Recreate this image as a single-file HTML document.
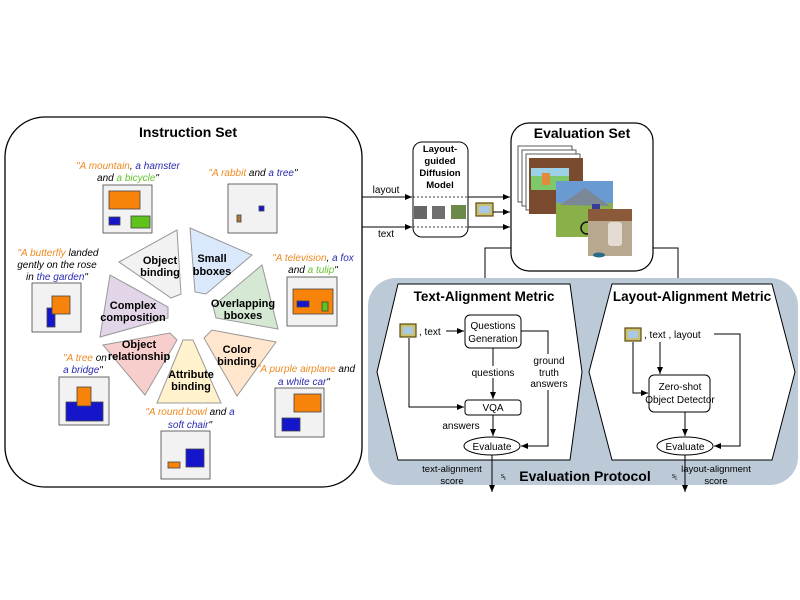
<!DOCTYPE html>
<html><head><style>
html,body{margin:0;padding:0;background:#fff;}
svg{display:block;font-family:"Liberation Sans",sans-serif;}
.b{font-weight:bold;}
.ex{font-size:10px;font-style:italic;}
.o{fill:#ee8a22}.bl{fill:#2a2ab0}.g{fill:#66c22e}
</style></head><body>
<svg width="800" height="600" viewBox="0 0 800 600" xmlns="http://www.w3.org/2000/svg">
<defs>
<marker id="a" markerWidth="8" markerHeight="8" refX="7" refY="4" orient="auto" markerUnits="userSpaceOnUse"><path d="M0,1 L7,4 L0,7 z" fill="#000"/></marker>
</defs>
<rect width="800" height="600" fill="#fff"/>
<rect x="5" y="117" width="357" height="370" rx="40" fill="#fff" stroke="#000" stroke-width="1.3"/>
<text x="188" y="137" text-anchor="middle" class="b" font-size="14">Instruction Set</text>

<g stroke="#999" stroke-width="1">
<polygon points="190,228 252,255 206,294 195,292" fill="#dae8fc"/>
<polygon points="262,265 278,329 216,318 213,306" fill="#d5e8d4"/>
<polygon points="276,342 237,396 204,338 212,330" fill="#ffe6cc"/>
<polygon points="221,403 157,403 183,340 193,340" fill="#fff2cc"/>
<polygon points="145,395 103,345 170,333 177,340" fill="#f8cecc"/>
<polygon points="100,337 110,275 168,307 168,318" fill="#e1d5e7"/>
<polygon points="119,262 177,230 181,294 171,298" fill="#f2f2f2"/>
</g>
<circle cx="192" cy="317" r="21" fill="#fff"/>
<g class="b" font-size="11" text-anchor="middle">
<text x="160" y="264">Object</text><text x="160" y="276">binding</text>
<text x="212" y="262">Small</text><text x="212" y="275">bboxes</text>
<text x="243" y="307">Overlapping</text><text x="243" y="319">bboxes</text>
<text x="237" y="353">Color</text><text x="237" y="365">binding</text>
<text x="191" y="378">Attribute</text><text x="191" y="390">binding</text>
<text x="139" y="348">Object</text><text x="139" y="360">relationship</text>
<text x="133" y="309">Complex</text><text x="133" y="321">composition</text>
</g>

<g stroke="#444" stroke-width="0.8">
<rect x="103" y="185" width="49" height="48" fill="#f2f2f2"/>
<rect x="109" y="191" width="31" height="18" fill="#f7830a"/>
<rect x="109" y="217" width="11" height="8" fill="#1515cc"/>
<rect x="131" y="216" width="19" height="12" fill="#5fc31c"/>
<rect x="228" y="184" width="49" height="49" fill="#f2f2f2"/>
<rect x="237" y="215" width="4" height="7" fill="#b07a3a"/>
<rect x="259" y="206" width="5" height="5" fill="#1515cc"/>
<rect x="287" y="277" width="50" height="49" fill="#f2f2f2"/>
<rect x="293" y="289" width="40" height="25" fill="#f7830a"/>
<rect x="297" y="301" width="12" height="6" fill="#1515cc"/>
<rect x="322" y="302" width="6" height="9" fill="#5fc31c"/>
<rect x="32" y="283" width="49" height="49" fill="#f2f2f2"/>
<rect x="47" y="308" width="8" height="19" fill="#1515cc"/>
<rect x="52" y="296" width="18" height="18" fill="#f7830a"/>
<rect x="59" y="377" width="50" height="48" fill="#f2f2f2"/>
<rect x="66" y="402" width="37" height="19" fill="#1515cc"/>
<rect x="77" y="387" width="14" height="19" fill="#f7830a"/>
<rect x="161" y="431" width="49" height="48" fill="#f2f2f2"/>
<rect x="168" y="462" width="12" height="6" fill="#f7830a"/>
<rect x="186" y="449" width="18" height="18" fill="#1515cc"/>
<rect x="275" y="388" width="49" height="49" fill="#f2f2f2"/>
<rect x="294" y="394" width="27" height="18" fill="#f7830a"/>
<rect x="282" y="418" width="18" height="13" fill="#1515cc"/>
</g>
<g class="ex" text-anchor="middle">
<text x="128" y="169"><tspan class="o">"A mountain</tspan>, <tspan class="bl">a hamster</tspan></text>
<text x="128" y="181">and <tspan class="g">a bicycle</tspan>"</text>
<text x="253" y="176"><tspan class="o">"A rabbit</tspan> and <tspan class="bl">a tree</tspan>"</text>
<text x="313" y="261"><tspan class="o">"A television</tspan>, <tspan class="bl">a fox</tspan></text>
<text x="313" y="273">and <tspan class="g">a tulip</tspan>"</text>
<text x="58" y="256"><tspan class="o">"A butterfly</tspan>  landed</text>
<text x="57" y="268">gently on the rose</text>
<text x="57" y="280">in <tspan class="bl">the garden</tspan>"</text>
<text x="85" y="361"><tspan class="o">"A tree</tspan> on</text>
<text x="83" y="373"><tspan class="bl">a bridge</tspan>"</text>
<text x="190" y="415"><tspan class="o">"A round bowl</tspan> and <tspan class="bl">a</tspan></text>
<text x="190" y="428"><tspan class="bl">soft chair</tspan>"</text>
<text x="306" y="372"><tspan class="o">"A purple airplane</tspan> and</text>
<text x="304" y="385"><tspan class="bl">a white car</tspan>"</text>
</g>

<rect x="413" y="142" width="55" height="95" rx="9" fill="#fff" stroke="#000"/>
<g class="b" font-size="9.5" text-anchor="middle">
<text x="440" y="152">Layout-</text><text x="440" y="164">guided</text><text x="440" y="176">Diffusion</text><text x="440" y="188">Model</text>
</g>
<line x1="413" y1="197" x2="468" y2="197" stroke="#000" stroke-dasharray="2,2" stroke-width="0.8"/>
<line x1="413" y1="227" x2="468" y2="227" stroke="#000" stroke-dasharray="2,2" stroke-width="0.8"/>
<rect x="414" y="206" width="13" height="13" fill="#666"/>
<rect x="432" y="206" width="13" height="13" fill="#6e6e6e"/>
<rect x="451" y="205" width="15" height="14" fill="#6b8a4a"/>
<rect x="476" y="203" width="17" height="13" fill="#c9c070" stroke="#5a4a10" stroke-width="1.2"/>
<rect x="479" y="206" width="11" height="7" fill="#a9c7e6"/>
<g stroke="#000" stroke-width="1" fill="none">
<line x1="362" y1="197" x2="412" y2="197" marker-end="url(#a)"/>
<line x1="362" y1="227" x2="412" y2="227" marker-end="url(#a)"/>
<line x1="468" y1="197" x2="510" y2="197" marker-end="url(#a)"/>
<line x1="493" y1="212" x2="510" y2="212" marker-end="url(#a)"/>
<line x1="468" y1="227" x2="510" y2="227" marker-end="url(#a)"/>
</g>
<text x="386" y="193" font-size="10" text-anchor="middle">layout</text>
<text x="386" y="237" font-size="10" text-anchor="middle">text</text>

<rect x="511" y="123" width="142" height="148" rx="18" fill="#fff" stroke="#000" stroke-width="1.2"/>
<text x="582" y="138" class="b" font-size="14" text-anchor="middle">Evaluation Set</text>
<rect x="518" y="146" width="54" height="56" fill="#fff" stroke="#333" stroke-width="0.8"/>
<rect x="522" y="150" width="54" height="56" fill="#fff" stroke="#333" stroke-width="0.8"/>
<rect x="526" y="154" width="54" height="56" fill="#fff" stroke="#333" stroke-width="0.8"/>
<rect x="529" y="158" width="54" height="56" fill="#7a4a2e"/>
<rect x="531" y="168" width="38" height="22" fill="#7ec86a"/>
<rect x="531" y="168" width="38" height="8" fill="#9cd0e6"/>
<rect x="542" y="173" width="8" height="12" fill="#e08a3a"/>
<rect x="556" y="181" width="57" height="56" fill="#8ab04a"/>
<rect x="556" y="181" width="57" height="22" fill="#6a9ad2"/>
<polygon points="560,205 585,188 610,206" fill="#7a8898"/>
<circle cx="587" cy="228" r="6" fill="none" stroke="#111" stroke-width="1.5"/>
<circle cx="605" cy="228" r="6" fill="none" stroke="#111" stroke-width="1.5"/>
<rect x="592" y="204" width="8" height="14" fill="#3a3a9a"/>
<rect x="588" y="209" width="44" height="47" fill="#b8a890"/>
<rect x="588" y="209" width="44" height="12" fill="#8a5a3a"/>
<rect x="608" y="222" width="14" height="24" fill="#e4dcd2" rx="3"/>
<ellipse cx="599" cy="255" rx="6" ry="2.5" fill="#2a6a8a"/>

<g stroke="#000" stroke-width="1" fill="none">
<polyline points="511,248 485,248 485,286" marker-end="url(#a)"/>
<polyline points="653,248 678,248 678,286" marker-end="url(#a)"/>
</g>
<rect x="368" y="278" width="430" height="207" rx="28" fill="#bccad8"/>
<polygon points="398,284 570,284 582,372 570,460 398,460 377,372" fill="#fff" stroke="#000"/>
<polygon points="612,284 772,284 795,372 772,460 612,460 589,372" fill="#fff" stroke="#000"/>
<text x="484" y="301" class="b" font-size="13.5" text-anchor="middle">Text-Alignment Metric</text>
<text x="692" y="301" class="b" font-size="13.5" text-anchor="middle">Layout-Alignment Metric</text>
<text x="585" y="481" class="b" font-size="14" text-anchor="middle">Evaluation Protocol</text>

<rect x="400" y="324" width="16" height="13" fill="#c9c070" stroke="#5a4a10" stroke-width="1.2"/>
<rect x="403" y="327" width="10" height="7" fill="#a9c7e6"/>
<text x="419" y="335" font-size="10">, text</text>
<rect x="465" y="315" width="56" height="33" rx="5" fill="#fff" stroke="#000"/>
<text x="493" y="329" font-size="10" text-anchor="middle">Questions</text>
<text x="493" y="342" font-size="10" text-anchor="middle">Generation</text>
<rect x="465" y="400" width="56" height="15" rx="3" fill="#fff" stroke="#000"/>
<text x="493" y="411" font-size="10" text-anchor="middle">VQA</text>
<ellipse cx="492" cy="446" rx="28" ry="9" fill="#fff" stroke="#000"/>
<text x="492" y="450" font-size="10" text-anchor="middle">Evaluate</text>
<g stroke="#000" stroke-width="1" fill="none">
<line x1="446" y1="331" x2="464" y2="331" marker-end="url(#a)"/>
<line x1="493" y1="348" x2="493" y2="399" marker-end="url(#a)"/>
<polyline points="409,338 409,407 464,407" marker-end="url(#a)"/>
<line x1="493" y1="415" x2="493" y2="436" marker-end="url(#a)"/>
<polyline points="521,331 548,331 548,446 521,446" marker-end="url(#a)"/>
<line x1="492" y1="455" x2="492" y2="492" marker-end="url(#a)"/>
</g>
<rect x="470" y="366" width="46" height="12" fill="#fff"/>
<text x="493" y="376" font-size="10" text-anchor="middle">questions</text>
<text x="461" y="429" font-size="10" text-anchor="middle">answers</text>
<rect x="530" y="354" width="40" height="36" fill="#fff"/>
<text x="549" y="364" font-size="10" text-anchor="middle">ground</text>
<text x="549" y="376" font-size="10" text-anchor="middle">truth</text>
<text x="549" y="387" font-size="10" text-anchor="middle">answers</text>
<text x="452" y="472" font-size="9.5" text-anchor="middle">text-alignment</text>
<text x="452" y="484" font-size="9.5" text-anchor="middle">score</text>
<text x="501" y="478" font-size="8" font-family="Liberation Serif">s<tspan font-size="6" dy="2">t</tspan></text>

<rect x="625" y="328" width="16" height="13" fill="#c9c070" stroke="#5a4a10" stroke-width="1.2"/>
<rect x="628" y="331" width="10" height="7" fill="#a9c7e6"/>
<text x="644" y="338" font-size="10">, text ,  layout</text>
<rect x="649" y="375" width="61" height="37" rx="5" fill="#fff" stroke="#000"/>
<text x="680" y="390" font-size="10" text-anchor="middle">Zero-shot</text>
<text x="680" y="403" font-size="10" text-anchor="middle">Object Detector</text>
<ellipse cx="685" cy="446" rx="28" ry="9" fill="#fff" stroke="#000"/>
<text x="685" y="450" font-size="10" text-anchor="middle">Evaluate</text>
<g stroke="#000" stroke-width="1" fill="none">
<polyline points="714,334 740,334 740,446 714,446" marker-end="url(#a)"/>
<line x1="660" y1="342" x2="660" y2="374" marker-end="url(#a)"/>
<polyline points="633,342 633,393 648,393" marker-end="url(#a)"/>
<line x1="685" y1="412" x2="685" y2="436" marker-end="url(#a)"/>
<line x1="685" y1="455" x2="685" y2="492" marker-end="url(#a)"/>
</g>
<text x="716" y="472" font-size="9.5" text-anchor="middle">layout-alignment</text>
<text x="716" y="484" font-size="9.5" text-anchor="middle">score</text>
<text x="672" y="478" font-size="8" font-family="Liberation Serif">s<tspan font-size="6" dy="2">l</tspan></text>
</svg>
</body></html>
